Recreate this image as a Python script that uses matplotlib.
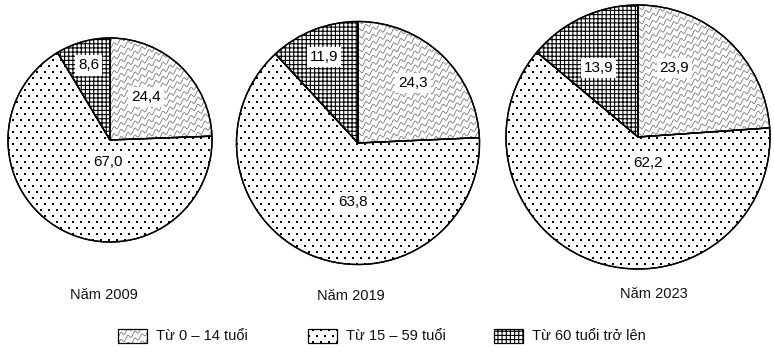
import numpy as np
import matplotlib
matplotlib.use("Agg")
import matplotlib.pyplot as plt
from matplotlib.patches import Rectangle, Wedge

plt.rcParams["font.family"] = ["Liberation Sans", "DejaVu Sans"]
plt.rcParams["hatch.linewidth"] = 0.8

# --------------------
# Data
# --------------------
years = ["Năm 2009", "Năm 2019", "Năm 2023"]
groups = ["Từ 0 – 14 tuổi", "Từ 15 – 59 tuổi", "Từ 60 tuổi trở lên"]
share_2009 = [24.4, 67.0, 8.6]
share_2019 = [24.3, 63.8, 11.9]
share_2023 = [23.9, 62.2, 13.9]
shares = [share_2009, share_2019, share_2023]

# --------------------
# Layout (figure pixels, y up)
# --------------------
W, H = 774, 354
centers = [(110, 214), (358, 211), (638, 217)]
radii = [102, 121.5, 132]
year_pos = [(104, 59), (351, 58), (654, 60)]
# label placement: (angle deg, fraction of radius)
label_polar = [
    [(50, 0.55), (-95, 0.22), (106, 0.76)],
    [(47.5, 0.67), (-95, 0.49), (111.6, 0.76)],
    [(62, 0.59), (-69, 0.21), (120, 0.60)],
]
legend_boxes = [(118, 11), (308, 11), (494, 11)]
box_w, box_h = 29, 14


def add_waves(ax, clip):
    xs = np.linspace(0, W, 2400)
    for y0 in np.arange(-H, 2 * H, 7.0):
        ys = y0 + xs * 0.6 + 2.0 * np.sin(xs * 2 * np.pi / 7.0)
        ln, = ax.plot(xs, ys, color="#7a7a7a", lw=0.6, zorder=2)
        ln.set_clip_path(clip)


def add_dots(ax, clip):
    pts = []
    for j, yy in enumerate(np.arange(0.5, H, 6.0)):
        off = 0.5 if j % 2 == 0 else 4.5
        for xx in np.arange(off, W, 8.0):
            pts.append((xx, yy))
    pts = np.array(pts)
    sc = ax.scatter(pts[:, 0], pts[:, 1], s=0.55, c="black", marker="s",
                    linewidths=0, antialiased=False, zorder=2)
    sc.set_clip_path(clip)


def texture(ax, patch, kind):
    if kind == 0:
        add_waves(ax, patch)
    elif kind == 1:
        add_dots(ax, patch)
    else:
        patch.set_hatch("++++")


def main():
    fig = plt.figure(figsize=(W / 100, H / 100), dpi=100)
    ax = fig.add_axes([0, 0, 1, 1])

    for i, vals in enumerate(shares):
        wedges, _ = ax.pie(vals, center=centers[i], radius=radii[i],
                           startangle=90, counterclock=False,
                           colors=["white"] * 3,
                           wedgeprops=dict(edgecolor="black", linewidth=1.0))
        for k, w in enumerate(wedges):
            w.set_zorder(1)
            texture(ax, w, k)
            # outline on top of the texture
            ax.add_patch(Wedge(w.center, w.r, w.theta1, w.theta2,
                               facecolor="none", edgecolor="black", lw=1.0,
                               zorder=3))
        cx, cy = centers[i]
        for k, v in enumerate(vals):
            ang, frac = label_polar[i][k]
            tx = cx + frac * radii[i] * np.cos(np.radians(ang))
            ty = cy + frac * radii[i] * np.sin(np.radians(ang))
            ax.text(tx, ty, f"{v:.1f}".replace(".", ","), ha="center",
                    va="center", fontsize=11, zorder=5,
                    bbox=dict(boxstyle="square,pad=0.2", fc="white",
                              ec="none"))
        ax.text(year_pos[i][0], year_pos[i][1], years[i], ha="center",
                va="center", fontsize=10.5, color="#111111")

    for k, name in enumerate(groups):
        bx, by = legend_boxes[k]
        rect = Rectangle((bx, by), box_w, box_h, facecolor="white",
                         edgecolor="black", lw=0, zorder=1)
        ax.add_patch(rect)
        texture(ax, rect, k)
        ax.add_patch(Rectangle((bx, by), box_w, box_h, facecolor="none",
                               edgecolor="black", lw=0.9, zorder=3))
        ax.text(bx + box_w + 9, by + box_h / 2, name, ha="left",
                va="center", fontsize=10.5, color="#111111")

    ax.set_xlim(0, W)
    ax.set_ylim(0, H)
    ax.set_aspect("auto")
    ax.axis("off")

    fig.savefig("out.png", dpi=100, facecolor="white")
    plt.close(fig)


if __name__ == "__main__":
    main()
